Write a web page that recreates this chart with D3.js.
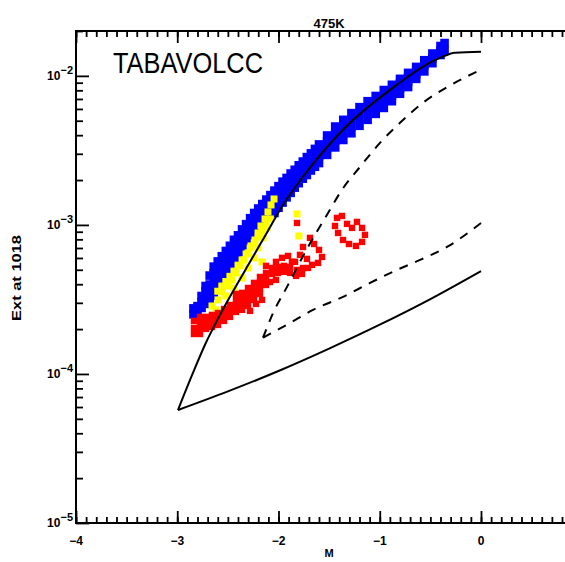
<!DOCTYPE html>
<html>
<head>
<meta charset="utf-8">
<script src="https://cdn.jsdelivr.net/npm/d3@7"></script>
<style>
  html, body { margin: 0; padding: 0; background: #fff; }
  svg { display: block; }
  text { font-family: "Liberation Sans", Arial, sans-serif; fill: #000; }
</style>
</head>
<body>
<svg id="chart" width="565" height="562"></svg>
<script>
// ---- labels and ticks ----
const title = "475K";
const runLabel = "TABAVOLCC";
const xTitle = "M";
const yTitle = "Ext at 1018";
const xMajorTicks = [-4, -3, -2, -1, 0, 1];
const xTickLabels = [[-4, "−4"], [-3, "−3"], [-2, "−2"], [-1, "−1"], [0, "0"]];
const yMajorTicks = [1e-5, 1e-4, 1e-3, 1e-2];
const yTickExponents = ["−5", "−4", "−3", "−2"];

// ---- model boundary curves: [M, extinction] ----
const solidUpper = [
  [-2.993, 5.73e-5], [-2.844, 1.02e-4], [-2.726, 1.57e-4], [-2.578, 2.49e-4],
  [-2.430, 3.78e-4], [-2.281, 5.65e-4], [-2.133, 8.43e-4], [-1.956, 1.36e-3],
  [-1.689, 2.42e-3], [-1.363, 4.35e-3], [-0.899, 8.05e-3], [-0.405, 1.32e-2],
  [-0.257, 1.43e-2], [0.0, 1.45e-2]
];
const solidLower = [
  [-2.993, 5.73e-5], [-2.5, 7.64e-5], [-2.0, 1.047e-4], [-1.5, 1.48e-4],
  [-1.0, 2.14e-4], [-0.5, 3.18e-4], [0.0, 4.9e-4]
];
const dashedUpper = [
  [-2.153, 1.75e-4], [-2.054, 2.56e-4], [-1.916, 3.84e-4], [-1.709, 7.1e-4],
  [-1.521, 1.17e-3], [-1.373, 1.72e-3], [-1.195, 2.45e-3], [-0.998, 3.55e-3],
  [-0.800, 4.84e-3], [-0.573, 6.6e-3], [-0.336, 8.4e-3], [0.0, 1.10e-2]
];
const dashedLower = [
  [-2.153, 1.75e-4], [-1.886, 2.2e-4], [-1.659, 2.69e-4], [-1.363, 3.29e-4],
  [-1.096, 4.08e-4], [-0.830, 4.99e-4], [-0.602, 5.82e-4], [-0.336, 7.11e-4],
  [0.0, 1.03e-3]
];

// ---- observations: M with log10 extinction ----
// blue: one entry per M column, listing the log10 extinctions in that column
const blueColumns = [
  [-2.84, [-3.60, -3.56]],
  [-2.80, [-3.58, -3.545]],
  [-2.76, [-3.557, -3.517, -3.477]],
  [-2.72, [-3.53, -3.485, -3.445, -3.41]],
  [-2.68, [-3.50, -3.45, -3.40, -3.34]],
  [-2.64, [-3.475, -3.425, -3.375, -3.325, -3.28]],
  [-2.60, [-3.40, -3.35, -3.30, -3.245]],
  [-2.56, [-3.36, -3.31, -3.26, -3.21]],
  [-2.52, [-3.33, -3.28, -3.225, -3.175]],
  [-2.48, [-3.295, -3.245, -3.19, -3.14]],
  [-2.44, [-3.26, -3.21, -3.155, -3.10]],
  [-2.40, [-3.22, -3.17, -3.12, -3.07]],
  [-2.36, [-3.185, -3.135, -3.08, -3.03]],
  [-2.32, [-3.145, -3.095, -3.045, -2.995]],
  [-2.28, [-3.105, -3.055, -3.005, -2.955]],
  [-2.24, [-3.07, -3.02, -2.97, -2.92]],
  [-2.20, [-3.03, -2.98, -2.935, -2.89]],
  [-2.16, [-2.99, -2.94, -2.90, -2.86]],
  [-2.12, [-2.95, -2.91, -2.87, -2.83]],
  [-2.08, [-2.91, -2.86, -2.80]],
  [-2.04, [-2.92, -2.87, -2.82, -2.77]],
  [-2.00, [-2.885, -2.835, -2.785, -2.74]],
  [-1.96, [-2.85, -2.80, -2.755, -2.71]],
  [-1.92, [-2.815, -2.77, -2.725, -2.685]],
  [-1.88, [-2.785, -2.74, -2.70, -2.655]],
  [-1.84, [-2.75, -2.71, -2.67, -2.63]],
  [-1.80, [-2.72, -2.68, -2.64, -2.60]],
  [-1.76, [-2.69, -2.65, -2.61, -2.575]],
  [-1.72, [-2.665, -2.625, -2.585, -2.545]],
  [-1.68, [-2.635, -2.595, -2.555, -2.52]],
  [-1.64, [-2.61, -2.57, -2.53, -2.49]],
  [-1.60, [-2.585, -2.54, -2.50, -2.46]],
  [-1.52, [-2.53, -2.485, -2.44, -2.40]],
  [-1.44, [-2.48, -2.435, -2.39, -2.34]],
  [-1.36, [-2.43, -2.385, -2.34, -2.295]],
  [-1.28, [-2.385, -2.34, -2.295, -2.25]],
  [-1.20, [-2.335, -2.29, -2.25, -2.21]],
  [-1.12, [-2.295, -2.25, -2.21, -2.17]],
  [-1.04, [-2.255, -2.215, -2.175, -2.135]],
  [-0.96, [-2.215, -2.175, -2.135, -2.095]],
  [-0.88, [-2.17, -2.135, -2.10, -2.06]],
  [-0.80, [-2.12, -2.085, -2.05, -2.02]],
  [-0.72, [-2.075, -2.04, -2.01, -1.98]],
  [-0.64, [-2.02, -1.99, -1.96, -1.94]],
  [-0.56, [-1.97, -1.93, -1.895]],
  [-0.48, [-1.915, -1.88, -1.85]],
  [-0.40, [-1.86, -1.83, -1.80]],
  [-0.36, [-1.83, -1.78]]
];
const yellowPoints = [
  [-2.60, -3.445], [-2.56, -3.41], [-2.52, -3.38], [-2.48, -3.345],
  [-2.44, -3.31], [-2.40, -3.27], [-2.36, -3.235], [-2.32, -3.195],
  [-2.28, -3.155], [-2.24, -3.12], [-2.20, -3.08], [-2.16, -3.04],
  [-2.12, -3.00], [-2.08, -2.96],
  [-2.657, -3.544], [-2.617, -3.570], [-2.598, -3.503], [-2.558, -3.450],
  [-2.519, -3.477], [-2.499, -3.409], [-2.459, -3.369], [-2.440, -3.423],
  [-2.420, -3.322], [-2.380, -3.275], [-2.360, -3.356], [-2.341, -3.235],
  [-2.301, -3.188], [-2.301, -3.289], [-2.272, -3.141], [-2.242, -3.221],
  [-2.232, -3.101], [-2.202, -3.054], [-2.202, -3.154], [-2.173, -3.007],
  [-2.153, -3.087], [-2.133, -2.960], [-2.114, -3.020], [-2.104, -2.913],
  [-2.074, -2.866], [-2.044, -2.826], [-1.817, -2.926], [-1.798, -3.074],
  [-2.163, -3.248]
];
const redPoints = [
  [-2.835, -3.644], [-2.835, -3.691], [-2.835, -3.732],
  [-2.775, -3.617], [-2.775, -3.658], [-2.775, -3.698], [-2.775, -3.732],
  [-2.716, -3.617], [-2.716, -3.658], [-2.716, -3.698],
  [-2.657, -3.604], [-2.657, -3.644], [-2.657, -3.685],
  [-2.598, -3.591], [-2.598, -3.631], [-2.598, -3.671],
  [-2.538, -3.564], [-2.538, -3.604], [-2.538, -3.644],
  [-2.479, -3.537], [-2.479, -3.577], [-2.479, -3.617],
  [-2.420, -3.463], [-2.420, -3.503], [-2.420, -3.544], [-2.420, -3.584],
  [-2.360, -3.456], [-2.360, -3.497], [-2.360, -3.537], [-2.360, -3.570],
  [-2.301, -3.423], [-2.301, -3.463], [-2.301, -3.503], [-2.301, -3.544],
  [-2.281, -3.577],
  [-2.242, -3.389], [-2.242, -3.430], [-2.242, -3.470], [-2.242, -3.503],
  [-2.222, -3.530],
  [-2.183, -3.349], [-2.183, -3.389], [-2.183, -3.430], [-2.183, -3.463],
  [-2.163, -3.503],
  [-2.123, -3.275], [-2.123, -3.322], [-2.123, -3.362], [-2.123, -3.403],
  [-2.084, -3.383],
  [-2.064, -3.289], [-2.064, -3.329],
  [-2.025, -3.248], [-2.025, -3.369],
  [-2.005, -3.282], [-2.005, -3.322],
  [-1.965, -3.221],
  [-1.946, -3.275], [-1.946, -3.315],
  [-1.906, -3.208],
  [-1.886, -3.282], [-1.886, -3.322],
  [-1.867, -3.248], [-1.827, -3.342], [-1.768, -3.329], [-1.709, -3.289],
  [-1.817, -2.987], [-1.758, -3.148], [-1.689, -3.087], [-1.649, -3.128],
  [-1.600, -3.168], [-1.570, -3.215], [-1.610, -3.255], [-1.669, -3.268],
  [-1.719, -3.228], [-1.788, -3.201], [-1.837, -3.248], [-1.817, -3.302],
  [-1.758, -3.289],
  [-1.422, -2.953], [-1.373, -2.940], [-1.323, -2.993], [-1.274, -3.020],
  [-1.225, -2.980], [-1.175, -3.020], [-1.146, -3.067], [-1.175, -3.114],
  [-1.235, -3.141], [-1.304, -3.128], [-1.363, -3.101], [-1.412, -3.054],
  [-1.442, -3.007]
];

// ---- layout ----
const svg = d3.select("#chart");
const plot = { left: 76, right: 582.25, top: 31, bottom: 523 };

const x = d3.scaleLinear().domain([-4, 1]).range([plot.left, plot.right]);
const y = d3.scaleLog().domain([1e-5, 2e-2]).range([plot.bottom, plot.top]);

const toExt = ([m, l]) => ({ m, ext: Math.pow(10, l) });
const blue = blueColumns.flatMap(([m, logs]) => logs.map(l => toExt([m, l])));
const yellow = yellowPoints.map(toExt);
const red = redPoints.map(toExt);

// ---- scatter ----
function drawSquares(data, side, color) {
  svg.append("g").selectAll("rect").data(data).join("rect")
    .attr("x", d => x(d.m) - side / 2)
    .attr("y", d => y(d.ext) - side / 2)
    .attr("width", side).attr("height", side)
    .attr("fill", color);
}
drawSquares(blue, 8.6, "#0000ff");
drawSquares(yellow, 7, "#ffff00");
drawSquares(red, 6.4, "#ff0000");

// ---- curves ----
const line = d3.line().x(d => x(d[0])).y(d => y(d[1])).curve(d3.curveMonotoneX);
function drawCurve(data, dashed) {
  svg.append("path").datum(data)
    .attr("d", line)
    .attr("fill", "none")
    .attr("stroke", "#000")
    .attr("stroke-width", 2)
    .attr("stroke-dasharray", dashed ? "9,8" : null);
}
drawCurve(solidUpper, false);
drawCurve(solidLower, false);
drawCurve(dashedUpper, true);
drawCurve(dashedLower, true);

// ---- axes: inward ticks on bottom, top and left ----
const xMinor = d3.range(-40, 11).map(v => v / 10);
const yMinor = [];
[1e-5, 1e-4, 1e-3, 1e-2].forEach(dec => {
  for (let k = 2; k <= 9; k++) { const v = dec * k; if (v <= 2e-2) yMinor.push(v); }
});

function tickAxis(axis, values, size, transform) {
  const g = svg.append("g").attr("transform", transform)
    .call(axis.tickValues(values).tickSize(size).tickFormat(() => ""));
  g.select(".domain").remove();
  g.selectAll(".tick line").attr("stroke", "#000").attr("stroke-width", 1.8);
}
tickAxis(d3.axisBottom(x), xMinor, -6, `translate(0,${plot.bottom})`);
tickAxis(d3.axisBottom(x), xMajorTicks, -12, `translate(0,${plot.bottom})`);
tickAxis(d3.axisTop(x), xMinor, -6, `translate(0,${plot.top})`);
tickAxis(d3.axisTop(x), xMajorTicks, -12, `translate(0,${plot.top})`);
tickAxis(d3.axisLeft(y), yMinor, -7, `translate(${plot.left},0)`);
tickAxis(d3.axisLeft(y), yMajorTicks, -13, `translate(${plot.left},0)`);

// frame
svg.append("rect")
  .attr("x", plot.left).attr("y", plot.top)
  .attr("width", plot.right - plot.left).attr("height", plot.bottom - plot.top)
  .attr("fill", "none").attr("stroke", "#000").attr("stroke-width", 2);

// x tick labels
svg.append("g").selectAll("text").data(xTickLabels).join("text")
  .attr("x", d => x(d[0])).attr("y", plot.bottom + 22)
  .attr("text-anchor", "middle")
  .attr("font-size", 12).attr("font-weight", "bold")
  .text(d => d[1]);

// y tick labels: 10 with superscript exponent
const yl = svg.append("g").selectAll("text").data(yMajorTicks).join("text")
  .attr("x", plot.left - 3).attr("y", d => y(d) + 4)
  .attr("text-anchor", "end")
  .attr("font-size", 12).attr("font-weight", "bold");
yl.append("tspan").text("10");
yl.append("tspan").attr("dy", -6).attr("font-size", 11).text((d, i) => yTickExponents[i]);

// titles
svg.append("text").attr("x", x(-1.5)).attr("y", 28)
  .attr("text-anchor", "middle").attr("font-size", 13).attr("font-weight", "bold")
  .text(title);
svg.append("text").attr("x", x(-1.5)).attr("y", 557)
  .attr("text-anchor", "middle").attr("font-size", 11).attr("font-weight", "bold")
  .text(xTitle);
svg.append("text")
  .attr("transform", "translate(21,278) rotate(-90)")
  .attr("text-anchor", "middle").attr("font-size", 12).attr("font-weight", "bold")
  .attr("textLength", 86).attr("lengthAdjust", "spacingAndGlyphs")
  .text(yTitle);
svg.append("text").attr("x", 113).attr("y", 73)
  .attr("font-size", 29)
  .attr("textLength", 150).attr("lengthAdjust", "spacingAndGlyphs")
  .text(runLabel);
</script>
</body>
</html>
